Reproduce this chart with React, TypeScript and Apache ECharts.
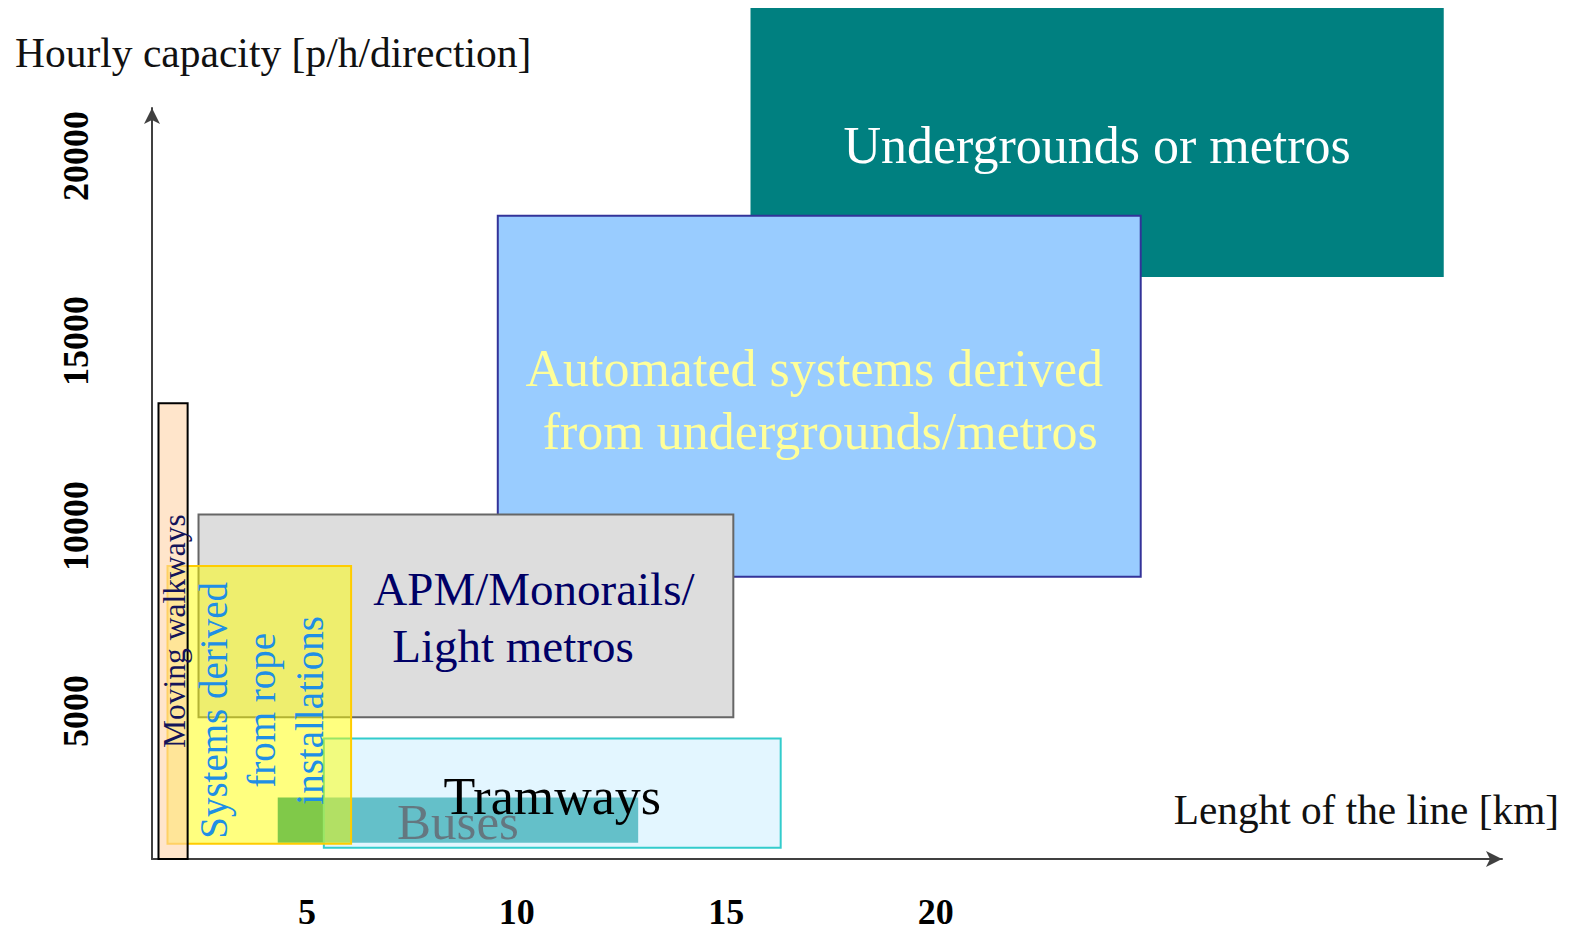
import React, { useEffect, useRef } from 'react';
import * as echarts from 'echarts';

// ---- data ----
const boxNames = [
  'Undergrounds or metros',
  'Automated systems derived from undergrounds/metros',
  'APM/Monorails/Light metros',
  'Buses',
  'Tramways',
  'Systems derived from rope installations',
  'Moving walkways',
];
const boxLabelLines = [
  ['Undergrounds or metros'],
  ['Automated systems derived', 'from undergrounds/metros'],
  ['APM/Monorails/', 'Light metros'],
  ['Buses'],
  ['Tramways'],
  ['Systems derived', 'from rope', 'installations'],
  ['Moving walkways'],
];
const lengthFromKm = [15.58, 9.55, 2.41, 4.3, 5.4, 1.67, 1.455];
const lengthToKm = [32.12, 24.89, 15.17, 12.9, 16.3, 6.05, 2.15];
const capacityFrom = [16730, 8630, 4830, 1440, 1305, 1410, 1000];
const capacityTo = [24000, 18390, 10310, 2660, 4260, 8920, 13320];

const xTickLabels = [5, 10, 15, 20];
const yTickLabels = [5000, 10000, 15000, 20000];
const yAxisTitle = 'Hourly capacity [p/h/direction]';
const xAxisTitle = 'Lenght of the line [km]';

// ---- styles ----
const SERIF = '"Liberation Serif", "Times New Roman", Times, serif';
const boxStyles = [
  { fill: '#008080', stroke: null, lineWidth: 0, color: '#FFFFFF', fontSize: 52, lineHeight: 62, rotate: 0, dx: 0, dy: 3, lineDx: [0] },
  { fill: '#99CCFF', stroke: '#333399', lineWidth: 2, color: '#FFFF99', fontSize: 52, lineHeight: 63, rotate: 0, dx: 0, dy: 3.5, lineDx: [-5, 1] },
  { fill: '#DDDDDD', stroke: '#666666', lineWidth: 2, color: '#000066', fontSize: 47, lineHeight: 57, rotate: 0, dx: 0, dy: 2, lineDx: [68, 47] },
  { fill: '#009393', stroke: null, lineWidth: 0, color: '#000000', fontSize: 51, lineHeight: 51, rotate: 0, dx: 0, dy: 2, lineDx: [0] },
  { fill: 'rgba(200,237,255,0.5)', stroke: '#33CCCC', lineWidth: 2, color: '#000000', fontSize: 52, lineHeight: 52, rotate: 0, dx: 0, dy: 3, lineDx: [0] },
  { fill: 'rgba(255,255,0,0.5)', stroke: '#FFCC00', lineWidth: 2, color: '#1F8FE5', fontSize: 39, lineHeight: 48, rotate: 90, dx: 2.5, dy: 5.5, lineDx: [0, 0, 0] },
  { fill: 'rgba(255,212,168,0.6)', stroke: '#000000', lineWidth: 2, color: '#14145A', fontSize: 31.5, lineHeight: 31, rotate: 90, dx: 1.5, dy: 0, lineDx: [0] },
];

const renderItem = (params: any, api: any) => {
  const i = params.dataIndex;
  const tl = api.coord([api.value(0), api.value(3)]);
  const br = api.coord([api.value(1), api.value(2)]);
  const st = boxStyles[i];
  const cx = (tl[0] + br[0]) / 2 + st.dx;
  const cy = (tl[1] + br[1]) / 2 + st.dy;
  const r = (st.rotate * Math.PI) / 180;
  const lines = boxLabelLines[i];
  const n = lines.length;
  const children: any[] = [
    {
      type: 'rect',
      shape: { x: tl[0], y: tl[1], width: br[0] - tl[0], height: br[1] - tl[1] },
      style: { fill: st.fill, stroke: st.stroke, lineWidth: st.lineWidth },
    },
  ];
  lines.forEach((line, j) => {
    const u = st.lineDx[j] || 0;
    const v = (j - (n - 1) / 2) * st.lineHeight;
    const sx = u * Math.cos(r) + v * Math.sin(r);
    const sy = -u * Math.sin(r) + v * Math.cos(r);
    children.push({
      type: 'text',
      x: cx + sx,
      y: cy + sy,
      rotation: r,
      style: {
        text: line,
        fill: st.color,
        font: `normal ${st.fontSize}px ${SERIF}`,
        align: 'center',
        verticalAlign: 'middle',
      },
    });
  });
  return { type: 'group', children };
};

export default function App() {
  const ref = useRef<HTMLDivElement>(null);
  useEffect(() => {
    if (!ref.current) return;
    const chart = echarts.init(ref.current, null, { renderer: 'svg' });
    const axisLine = {
      show: true,
      onZero: false,
      symbol: ['none', 'arrow'],
      symbolSize: [12, 16],
      lineStyle: { color: '#404040', width: 2 },
    };
    const tickText = {
      fontSize: 36,
      fontWeight: 'bold',
      fontFamily: SERIF,
      color: '#000000',
    };
    chart.setOption({
      animation: false,
      backgroundColor: '#ffffff',
      title: [
        {
          text: yAxisTitle,
          left: 15,
          top: 32,
          padding: 0,
          textStyle: { fontSize: 41.5, fontWeight: 'normal', fontFamily: SERIF, color: '#111111' },
        },
        {
          text: xAxisTitle,
          right: 14,
          top: 789,
          padding: 0,
          textStyle: { fontSize: 41.3, fontWeight: 'normal', fontFamily: SERIF, color: '#111111' },
        },
      ],
      grid: { left: 152, right: 71, top: 108, bottom: 78, containLabel: false, outerBoundsMode: 'none' },
      xAxis: {
        type: 'value',
        min: 1.3,
        max: 33.51,
        splitLine: { show: false },
        axisTick: { show: false },
        axisLine,
        axisLabel: {
          ...tickText,
          margin: 35,
          customValues: xTickLabels,
          formatter: (v: number) => (xTickLabels.includes(v) ? String(v) : ''),
        },
      },
      yAxis: {
        type: 'value',
        min: 1000,
        max: 21300,
        splitLine: { show: false },
        axisTick: { show: false },
        axisLine,
        axisLabel: {
          ...tickText,
          rotate: 90,
          margin: 58,
          customValues: yTickLabels,
          formatter: (v: number) => (yTickLabels.includes(v) ? String(v) : ''),
        },
      },
      series: [
        {
          type: 'custom',
          coordinateSystem: 'cartesian2d',
          silent: true,
          clip: false,
          renderItem,
          encode: { x: [0, 1], y: [2, 3] },
          data: boxNames.map((name, i) => ({
            name,
            value: [lengthFromKm[i], lengthToKm[i], capacityFrom[i], capacityTo[i]],
          })),
        },
      ],
    });
    return () => chart.dispose();
  }, []);
  return <div ref={ref} style={{ position: 'absolute', left: 0, top: 0, width: 1573, height: 937 }} />;
}
